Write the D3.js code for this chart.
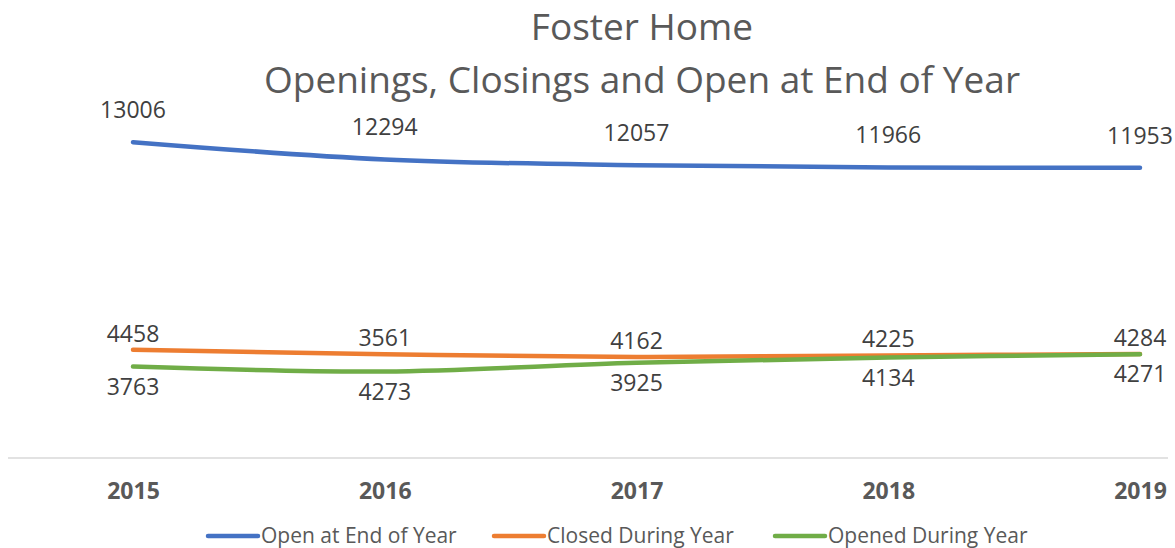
<!DOCTYPE html>
<html>
<head>
<meta charset="utf-8">
<script src="https://cdnjs.cloudflare.com/ajax/libs/d3/7.8.5/d3.min.js"></script>
<style>
  body { margin: 0; background: #fff; }
  svg { display: block; font-family: "Open Sans", "Noto Sans", sans-serif; }
</style>
</head>
<body>
<svg width="1175" height="548"></svg>
<script>
// chart values
var years = ["2015", "2016", "2017", "2018", "2019"];
var openAtEnd = [13006, 12294, 12057, 11966, 11953];
var closedDuring = [4458, 4273, 4162, 4225, 4284];
var openedDuring = [3763, 3561, 3925, 4134, 4271];
var seriesNames = ["Open at End of Year", "Closed During Year", "Opened During Year"];
var titleLines = ["Foster Home", "Openings, Closings and Open at End of Year"];

var colors = ["#4472c4", "#ed7d31", "#70ad47"];

var svg = d3.select("svg");

var x = d3.scalePoint().domain(years).range([133, 1140]);
var y = d3.scaleLinear().domain([0, 14000]).range([458, 118]);

// title
svg.selectAll("text.title")
  .data(titleLines)
  .enter().append("text")
  .attr("class", "title")
  .attr("x", 642)
  .attr("y", function(d, i) { return 40 + i * 53; })
  .attr("text-anchor", "middle")
  .attr("fill", "#595959")
  .style("font-size", "37px")
  .text(function(d) { return d; });

// category axis
var xAxis = svg.append("g")
  .attr("transform", "translate(0," + y(0) + ")")
  .call(d3.axisBottom(x).tickSize(0).tickPadding(25));
xAxis.select(".domain").remove();
xAxis.append("line")
  .attr("x1", 8).attr("x2", 1168)
  .attr("stroke", "#d9d9d9").attr("stroke-width", 1.5);
xAxis.selectAll(".tick text")
  .attr("fill", "#595959")
  .style("font-size", "23px")
  .style("font-weight", "bold")
  .style("font-family", "'Open Sans', sans-serif");

var line = d3.line()
  .x(function(d, i) { return x(years[i]); })
  .y(function(d) { return y(d); })
  .curve(d3.curveCatmullRom.alpha(0.5));

var allSeries = [openAtEnd, closedDuring, openedDuring];

svg.selectAll("path.series")
  .data(allSeries)
  .enter().append("path")
  .attr("class", "series")
  .attr("d", line)
  .attr("fill", "none")
  .attr("stroke", function(d, i) { return colors[i]; })
  .attr("stroke-width", 4.5)
  .attr("stroke-linecap", "round");

// data labels: blue above; orange above the pair, green below (2016 swapped in the original)
function labelY(si, i) {
  if (si === 0) return y(allSeries[0][i]) - 24;
  var hi = Math.max(closedDuring[i], openedDuring[i]);
  var lo = Math.min(closedDuring[i], openedDuring[i]);
  var above = (si === 1) !== (i === 1);
  return above ? y(hi) - 8 : y(lo) + 28;
}

allSeries.forEach(function(s, si) {
  svg.selectAll("text.lab" + si)
    .data(s)
    .enter().append("text")
    .attr("class", "lab" + si)
    .attr("x", function(d, i) { return x(years[i]); })
    .attr("y", function(d, i) { return labelY(si, i); })
    .attr("text-anchor", "middle")
    .attr("fill", "#404040")
    .style("font-size", "23px")
    .text(function(d) { return d; });
});

// legend
var legendX = [208, 494, 775];
var legend = svg.selectAll("g.legend")
  .data(seriesNames)
  .enter().append("g")
  .attr("class", "legend")
  .attr("transform", function(d, i) { return "translate(" + legendX[i] + ",536)"; });
legend.append("line")
  .attr("x1", 0).attr("x2", 50)
  .attr("stroke", function(d, i) { return colors[i]; })
  .attr("stroke-width", 4.5)
  .attr("stroke-linecap", "round");
legend.append("text")
  .attr("x", 53).attr("y", 7)
  .attr("fill", "#595959")
  .style("font-size", "21px")
  .text(function(d) { return d; });
</script>
</body>
</html>
